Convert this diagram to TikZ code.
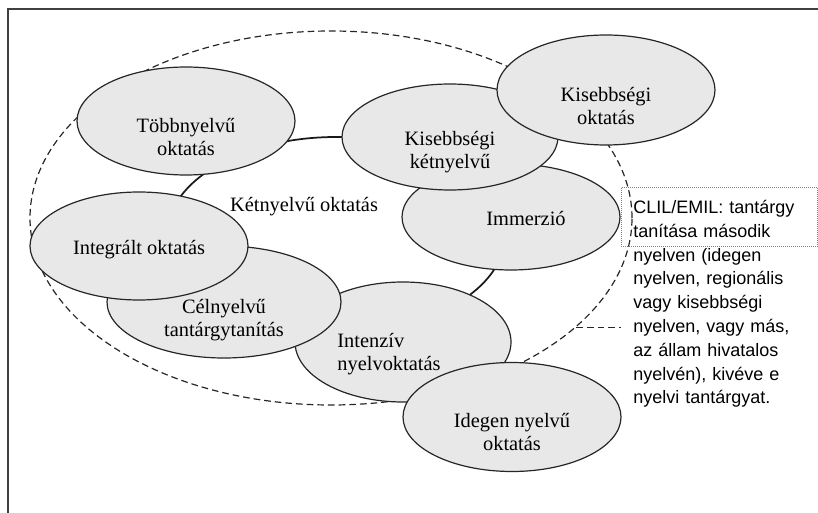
\documentclass[tikz,border=0pt]{standalone}
\usepackage{fontspec}
\setmainfont{Liberation Serif}
\newfontfamily\clilfont{Liberation Sans}
\usetikzlibrary{shapes.geometric}

\newcommand{\pxu}{0.75pt}

\tikzset{
  blob/.style={ellipse, draw=black!85, line width=0.9pt, fill=gray!18,
    inner sep=0pt, minimum width=218*\pxu, minimum height=108*\pxu},
  blobtext/.style={align=center, inner sep=0pt,
    font=\fontsize{15.3}{17}\selectfont},
  groupring/.style={ellipse, draw=black!85, line width=0.9pt,
    dash pattern=on 5pt off 3pt, inner sep=0pt},
  linkring/.style={ellipse, draw=black!90, line width=1.3pt, inner sep=0pt},
  notebox/.style={draw=gray, densely dotted, line width=0.5pt, align=left,
    font=\clilfont\fontsize{13.5}{17.85}\selectfont, text width=172*\pxu,
    inner xsep=12*\pxu, inner ysep=13*\pxu, text depth=15pt, anchor=north west},
  notelink/.style={draw=black!85, line width=0.9pt, dash pattern=on 5pt off 3pt},
  frameline/.style={draw=black!75, line width=1pt}
}

\begin{document}
\begin{tikzpicture}[x=\pxu, y=-\pxu]

            \useasboundingbox (0,0) rectangle (818,513);
            \draw[frameline] (8,513) -- (8,9) -- (818,9);

            % group boundary and linking ring
            \node[groupring, minimum width=602*\pxu, minimum height=374*\pxu] (ketnyelvu) at (331,218) {};
            \node[linkring, minimum width=338*\pxu, minimum height=196*\pxu] (gyuru) at (336,235) {};
            \node[blobtext] (ketcimke) at (304,207) {Kétnyelvű oktatás};

            % forms of teaching, back to front
            \node[blob, minimum height=106*\pxu,
                  label={[blobtext, xshift=15*\pxu, yshift=-2*\pxu]center:Immerzió}] (immerzio) at (511,217) {};
            \node[blob, minimum width=216*\pxu, minimum height=106*\pxu,
                  label={[blobtext, yshift=-15*\pxu]center:Kisebbségi\\kétnyelvű}] (kisketnyelvu) at (450,137) {};
            \node[blob, minimum height=110*\pxu,
                  label={[blobtext, yshift=-16*\pxu]center:Kisebbségi\\oktatás}] (kisebbsegi) at (606,90) {};
            \node[blob, minimum width=216*\pxu, minimum height=120*\pxu,
                  label={[blobtext, align=left, xshift=-14*\pxu, yshift=-12*\pxu]center:Intenzív\\nyelvoktatás}] (intenziv) at (403,342) {};
            \node[blob, minimum width=234*\pxu, minimum height=112*\pxu,
                  label={[blobtext, yshift=-18*\pxu]center:Célnyelvű\\tantárgytanítás}] (celnyelvu) at (224,302) {};
            \node[blob, label={[blobtext, yshift=-4*\pxu]center:Integrált oktatás}] (integralt) at (139,246) {};
            \node[blob, minimum height=109*\pxu,
                  label={[blobtext, yshift=-15*\pxu]center:Idegen nyelvű\\oktatás}] (idegen) at (512,417) {};
            \node[blob, label={[blobtext, yshift=-16*\pxu]center:Többnyelvű\\oktatás}] (tobbnyelvu) at (186,121) {};

            % CLIL note
            \node[notebox] (clil) at (621,187) {CLIL/EMIL: tantárgy\\tanítása második\\nyelven (idegen\\nyelven, regionális\\vagy kisebbségi\\nyelven, vagy más,\\az állam hivatalos\\nyelvén), kivéve e\\nyelvi tantárgyat.};
            \draw[notelink] (ketnyelvu.-24) -- (clil.west |- ketnyelvu.-24);

        \end{tikzpicture}
\end{document}
